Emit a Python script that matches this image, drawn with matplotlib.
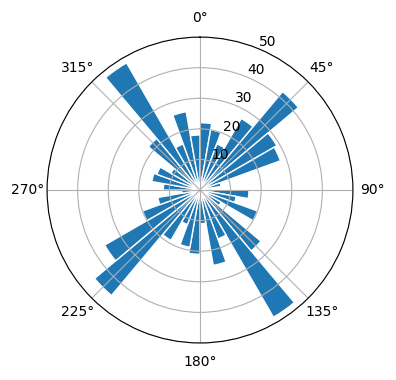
import numpy as np
import matplotlib
matplotlib.use("Agg")
import matplotlib.pyplot as plt

# direction bins (degrees, left edge) and counts
bin_start = np.arange(0, 360, 10)
counts = [22, 20, 16, 27, 42, 29, 28, 7, 4,
          16, 12, 20, 8, 26, 48, 17, 25, 11,
          21, 19, 12, 19, 45, 36, 20, 14, 6,
          12, 16, 15, 11, 22, 48, 16, 26, 18]
r_ticks = [10, 20, 30, 40, 50]

fig = plt.figure(figsize=(3.96, 3.8), dpi=100)
ax = fig.add_axes([0.1187, 0.0974, 0.7727, 0.805], projection='polar')
ax.set_theta_zero_location('N')
ax.set_theta_direction(-1)

ax.bar(np.radians(bin_start), counts, width=np.radians(10), align='edge',
       color='#1f77b4', edgecolor='white', linewidth=1)

ax.set_ylim(0, 50)
ax.set_rticks(r_ticks)
ax.set_rlabel_position(22.5)

fig.savefig('out.png', dpi=100)
